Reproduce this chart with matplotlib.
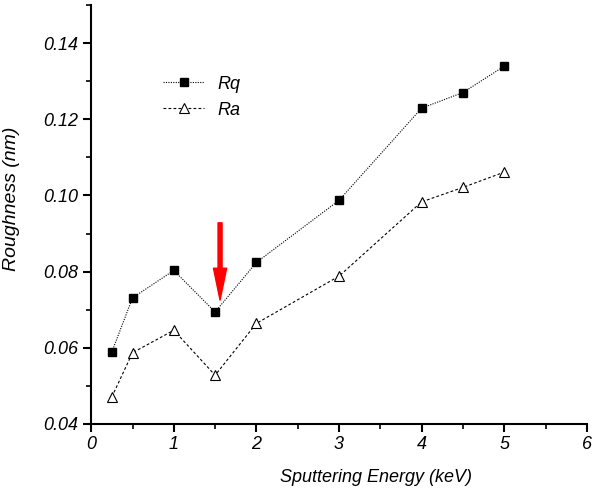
import matplotlib
matplotlib.use("Agg")
import matplotlib.pyplot as plt
from matplotlib.ticker import MultipleLocator

energy = [0.25, 0.5, 1.0, 1.5, 2.0, 3.0, 4.0, 4.5, 5.0]
rq = [0.0589, 0.0731, 0.0803, 0.0694, 0.0824, 0.0987, 0.1229, 0.1270, 0.1339]
ra = [0.0471, 0.0587, 0.0646, 0.0528, 0.0664, 0.0788, 0.0983, 0.1021, 0.1061]

plt.rcParams['font.family'] = ['Liberation Sans', 'DejaVu Sans']
plt.rcParams['font.style'] = 'italic'

fig = plt.figure(figsize=(6.0, 4.93), dpi=100)
ax = fig.add_axes([0.152, 0.140, 0.826, 0.850])

ax.plot(energy, rq, color='black', ls=(0, (1, 1.2)), lw=0.8,
        marker='s', ms=5.5, mfc='black', mec='black', label='Rq')
ax.plot(energy, ra, color='black', ls=(0, (2.5, 2)), lw=0.8,
        marker='^', ms=7.5, mfc='white', mec='black', mew=0.8, label='Ra')

# red arrow pointing at the 1.5 keV dip
ax.annotate('', xy=(1.56, 0.0725), xytext=(1.56, 0.0928),
            arrowprops=dict(arrowstyle='simple,tail_width=0.29,head_width=0.95,head_length=2.3',
                            color='red', mutation_scale=10, shrinkA=0, shrinkB=0))

ax.set_xlim(0, 6)
ax.set_ylim(0.04, 0.15)
ax.xaxis.set_major_locator(MultipleLocator(1))
ax.xaxis.set_minor_locator(MultipleLocator(0.5))
ax.set_yticks([0.04, 0.06, 0.08, 0.10, 0.12, 0.14])
ax.yaxis.set_minor_locator(MultipleLocator(0.01))
ax.set_yticklabels(['0.04', '0.06', '0.08', '0.10', '0.12', '0.14'])

ax.spines['top'].set_visible(False)
ax.spines['right'].set_visible(False)
ax.spines['left'].set_linewidth(1.5)
ax.spines['bottom'].set_linewidth(1.5)
ax.tick_params(which='major', direction='out', length=6, width=1.5, labelsize=13, pad=3)
ax.tick_params(which='minor', direction='out', length=3.5, width=1.2)

ax.set_xlabel('Sputtering Energy (keV)', fontsize=13)
ax.set_ylabel('Roughness (nm)', fontsize=14)
ax.xaxis.set_label_coords(0.575, -0.108)
ax.yaxis.set_label_coords(-0.143, 0.537)

ax.legend(loc='upper left', bbox_to_anchor=(0.112, 0.87), frameon=False, fontsize=13,
          handlelength=2.3, handletextpad=0.7, labelspacing=0.5)

fig.savefig('out.png', dpi=100)
